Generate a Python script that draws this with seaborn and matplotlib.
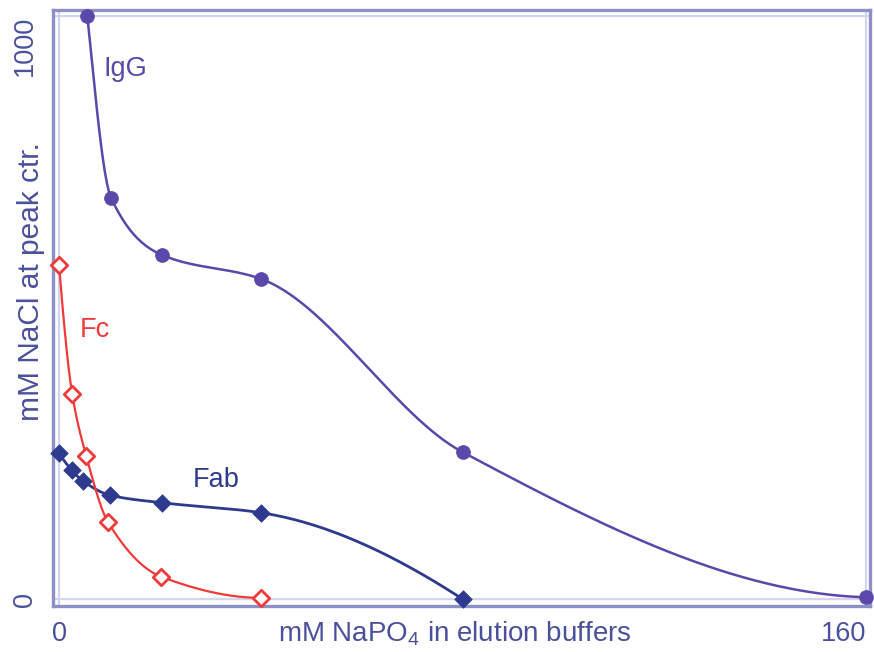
import numpy as np
import pandas as pd
import matplotlib
matplotlib.use("Agg")
import matplotlib.pyplot as plt
import seaborn as sns

# Peak-centre NaCl concentration vs. phosphate in the elution buffer
igg_x = [5.6, 10.3, 20.4, 40, 80, 160]
igg_y = [1000, 688, 590, 549, 252, 3]

fab_x = [0, 2.5, 4.8, 10.1, 20.5, 40, 80]
fab_y = [250, 221, 202, 178, 165, 148, 0]

fc_x = [0, 2.6, 5.4, 9.7, 20.3, 40]
fc_y = [573, 352, 245, 132, 38, 2]

x_ticks = [0, 160]
x_ticklabels = ["0", "160"]
y_ticks = [0, 1000]
y_ticklabels = ["0", "1000"]


def pchip(x, y, n=400):
    """Shape-preserving cubic through the measured points."""
    x = np.asarray(x, float)
    y = np.asarray(y, float)
    h = np.diff(x)
    d = np.diff(y) / h
    m = np.zeros_like(x)
    for k in range(1, len(x) - 1):
        if d[k - 1] * d[k] > 0:
            w1 = 2 * h[k] + h[k - 1]
            w2 = h[k] + 2 * h[k - 1]
            m[k] = (w1 + w2) / (w1 / d[k - 1] + w2 / d[k])

    def end(h0, h1, d0, d1):
        s = ((2 * h0 + h1) * d0 - h0 * d1) / (h0 + h1)
        if np.sign(s) != np.sign(d0):
            s = 0.0
        elif np.sign(d0) != np.sign(d1) and abs(s) > abs(3 * d0):
            s = 3 * d0
        return s

    m[0] = end(h[0], h[1], d[0], d[1])
    m[-1] = end(h[-1], h[-2], d[-1], d[-2])
    xs = np.linspace(x[0], x[-1], n)
    idx = np.clip(np.searchsorted(x, xs) - 1, 0, len(h) - 1)
    t = (xs - x[idx]) / h[idx]
    h00 = 2 * t**3 - 3 * t**2 + 1
    h10 = t**3 - 2 * t**2 + t
    h01 = -2 * t**3 + 3 * t**2
    h11 = t**3 - t**2
    ys = (h00 * y[idx] + h10 * h[idx] * m[idx]
          + h01 * y[idx + 1] + h11 * h[idx] * m[idx + 1])
    return xs, ys


sns.set_style("white")
plt.rcParams["font.family"] = ["Liberation Sans", "DejaVu Sans"]
plt.rcParams["mathtext.fontset"] = "custom"
plt.rcParams["mathtext.rm"] = "Liberation Sans"
plt.rcParams["mathtext.it"] = "Liberation Sans"

C_IGG = "#5a48aa"
C_FAB = "#2d3a8e"
C_FC = "#f03a3a"
C_FRAME = "#8d90c5"
C_LIGHT = "#d2d5ee"
C_TEXT = "#4b509c"

fig = plt.figure(figsize=(8.74, 6.52), dpi=100)
ax = fig.add_axes([53 / 874, 46 / 652, 817 / 874, 596 / 652])

ax.set_xlim(-1.2, 160.8)
ax.set_ylim(-12, 1010)

# light reference lines at the axis extremes
for v in x_ticks:
    ax.axvline(v, color=C_LIGHT, lw=1.6, zorder=0)
for v in y_ticks:
    ax.axhline(v, color=C_LIGHT, lw=1.6, zorder=0)

series = [
    ("Fab", fab_x, fab_y, C_FAB, 2.0),
    ("Fc", fc_x, fc_y, C_FC, 1.6),
    ("IgG", igg_x, igg_y, C_IGG, 1.8),
]
for name, xs, ys, col, lw in series:
    cx, cy = pchip(xs, ys)
    curve = pd.DataFrame({"x": cx, "y": cy})
    sns.lineplot(data=curve, x="x", y="y", ax=ax, color=col, lw=lw,
                 sort=False, estimator=None, zorder=3)

pts_fab = pd.DataFrame({"x": fab_x, "y": fab_y})
pts_fc = pd.DataFrame({"x": fc_x, "y": fc_y})
pts_igg = pd.DataFrame({"x": igg_x, "y": igg_y})

sns.scatterplot(data=pts_fab, x="x", y="y", ax=ax, marker="D", s=80,
                color=C_FAB, edgecolor=C_FAB, linewidth=0.5, zorder=4,
                clip_on=False)
sns.scatterplot(data=pts_fc, x="x", y="y", ax=ax, marker="D", s=70,
                facecolor="white", edgecolor=C_FC, linewidth=2.0, zorder=5,
                clip_on=False)
sns.scatterplot(data=pts_igg, x="x", y="y", ax=ax, marker="o", s=100,
                color=C_IGG, edgecolor=C_IGG, linewidth=0.5, zorder=5,
                clip_on=False)

ax.text(13.1, 909, "IgG", color=C_IGG, fontsize=19.5, ha="center", va="center")
ax.text(7.1, 462, "Fc", color=C_FC, fontsize=19.5, ha="center", va="center")
ax.text(31.1, 204, "Fab", color=C_FAB, fontsize=19.5, ha="center", va="center")

# frame
for sp in ax.spines.values():
    sp.set_visible(True)
    sp.set_color(C_FRAME)
    sp.set_linewidth(2.4)

ax.set_xticks(x_ticks)
ax.set_xticklabels(x_ticklabels)
ax.set_yticks(y_ticks)
ax.set_yticklabels(y_ticklabels, rotation=90)
ax.tick_params(axis="both", direction="out", length=5, width=1.6,
               color=C_LIGHT, labelcolor=C_TEXT, labelsize=19.5, pad=6)
ax.get_xticklabels()[1].set_ha("right")
ax.get_yticklabels()[0].set_va("center")
ax.get_yticklabels()[1].set_va("top")

ax.set_xlabel(r"mM NaPO$_4$ in elution buffers", fontsize=20, color=C_TEXT,
              va="center")
ax.xaxis.set_label_coords(0.492, -0.047)
ax.set_ylabel("mM NaCl at peak ctr.", fontsize=21.5, color=C_TEXT, va="center")
ax.yaxis.set_label_coords(-0.027, 0.545)

fig.savefig("out.png", dpi=100)
